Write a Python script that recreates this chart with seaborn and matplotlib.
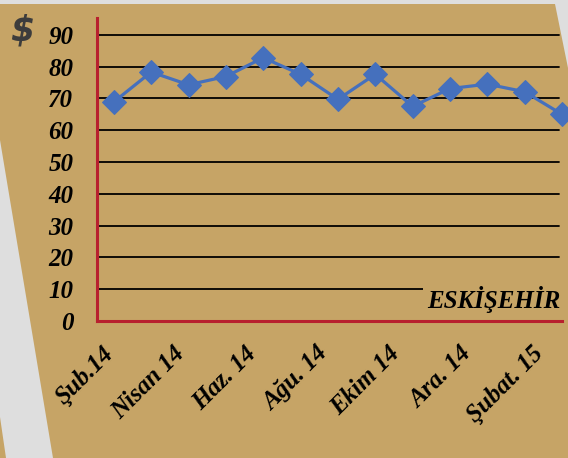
import numpy as np
import pandas as pd
import matplotlib
matplotlib.use("Agg")
import matplotlib.pyplot as plt
import seaborn as sns
from matplotlib.patches import Polygon

# monthly prices, Şubat 2014 - Şubat 2015
months = ["Şub.14", "Mar.14", "Nis.14", "May.14", "Haz.14", "Tem.14", "Ağu.14",
          "Eyl.14", "Eki.14", "Kas.14", "Ara.14", "Oca.15", "Şub.15"]
prices = [68.9, 78.3, 74.3, 76.9, 82.8, 77.6, 69.7, 77.6, 67.5, 73.1, 74.5, 72.1, 65.0]
tick_labels = ["Şub.14", "Nisan 14", "Haz. 14", "Ağu. 14", "Ekim 14", "Ara. 14", "Şubat. 15"]
y_ticks = [0, 10, 20, 30, 40, 50, 60, 70, 80, 90]
city = "ESKİŞEHİR"

df = pd.DataFrame({"month": months, "price": prices})
df["pos"] = np.arange(len(df))

TAN = "#c6a466"
GRAY = "#dedede"
RED = "#b8202e"
BLUE = "#4570bd"

sns.set_style("white")
plt.rcParams["font.family"] = ["Liberation Serif", "DejaVu Serif"]
plt.rcParams["text.color"] = "black"

W, H = 568, 458
fig = plt.figure(figsize=(W / 100, H / 100), dpi=100, facecolor=GRAY)

def px(pts):
    return [(x / W, 1 - y / H) for x, y in pts]

# background page shapes
fig.patches.append(Polygon(px([(0, 4), (555, 4), (568, 68), (568, 458), (53, 458), (0, 140)]),
                           closed=True, transform=fig.transFigure, facecolor=TAN,
                           edgecolor="none", zorder=-10))
fig.patches.append(Polygon(px([(0, 417), (6, 458), (0, 458)]), closed=True,
                           transform=fig.transFigure, facecolor=TAN, edgecolor="none", zorder=-10))

ax = fig.add_axes([97 / W, 1 - 321 / H, (562 - 97) / W, (321 - 18) / H])
ax.set_facecolor("none")

for v in y_ticks[1:]:
    ax.axhline(v, xmax=0.994, color="black", lw=1.3, zorder=1)

sns.lineplot(data=df, x="pos", y="price", ax=ax, color=BLUE, lw=2.3, marker="D",
             markersize=12, markeredgecolor=BLUE, clip_on=False, zorder=3)

ax.set_xlim(-0.45, 12.0)
ax.set_ylim(0, 95.3)

ax.set_yticks(y_ticks)
ax.set_yticklabels([str(v) for v in y_ticks], fontsize=18, fontweight="bold", style="italic")
ax.tick_params(axis="y", length=0, pad=17, labelcolor="black")

ax.set_xticks(np.linspace(-0.33, 11.18, len(tick_labels)))
ax.set_xticklabels(tick_labels, rotation=45, ha="right", va="top", rotation_mode="anchor",
                   fontsize=18, fontweight="bold", style="italic")
ax.tick_params(axis="x", length=0, pad=15, labelcolor="black")

ax.set_xlabel("")
ax.set_ylabel("")

for s in ["top", "right"]:
    ax.spines[s].set_visible(False)
for s in ["left", "bottom"]:
    ax.spines[s].set_color(RED)
    ax.spines[s].set_linewidth(2.2)
    ax.spines[s].set_zorder(2)

ax.text(0.9975, 0.043, city, transform=ax.transAxes, ha="right", va="baseline",
        fontsize=18, fontweight="bold", style="italic", color="black",
        bbox=dict(facecolor=TAN, edgecolor="none", pad=3), zorder=2)

fig.text(22 / W, 1 - 31 / H, "$", ha="center", va="center", fontsize=25,
         style="italic", fontweight="bold", color="#3c3c3c", family="DejaVu Sans")

fig.savefig("out.png", dpi=100, facecolor=GRAY)
